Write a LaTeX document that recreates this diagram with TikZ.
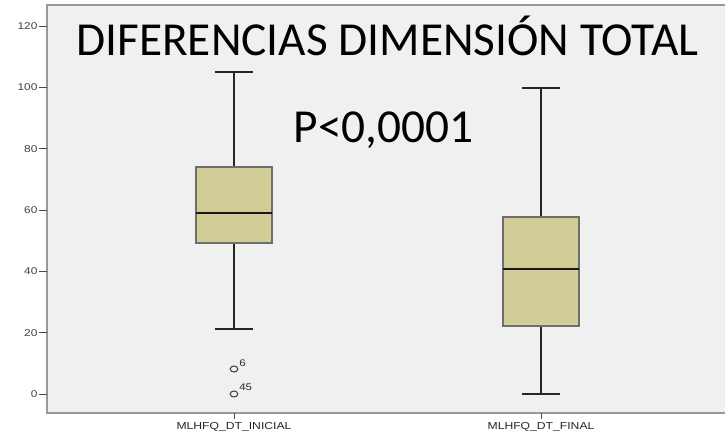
\documentclass[tikz,border=0pt]{standalone}
\usepackage{fontspec}
\setmainfont{Carlito}
\newfontfamily\axisfont[FakeStretch=1.2]{Liberation Sans}
\usepackage{tikz}
\usetikzlibrary{positioning,calc}

\definecolor{plotbg}{HTML}{F0F0F0}
\definecolor{boxfill}{HTML}{D2CD96}
\definecolor{boxedge}{HTML}{6E6E6E}

\begin{document}
\begin{tikzpicture}[x=0.75pt, y=-0.75pt]
    % Define styles
    \tikzset{
        frame/.style={draw=gray!80, line width=0.9pt, fill=plotbg},
        box/.style={draw=boxedge, line width=0.9pt, fill=boxfill},
        whisker/.style={draw=black!85, line width=1.1pt},
        median/.style={draw=black!90, line width=1.6pt},
        ticklabel/.style={font=\axisfont\fontsize{7.4}{8}\selectfont, text=black!75, anchor=east, inner sep=1pt},
        catlabel/.style={font=\axisfont\fontsize{7.6}{8}\selectfont, text=black!85, inner sep=0pt},
        outlier/.style={draw=black!75, line width=0.8pt},
        bigtext/.style={font=\fontsize{35.5}{38}\selectfont, anchor=base, inner sep=0pt}
    }
    \useasboundingbox (0,0) rectangle (725,433);

    % Plot area
    \draw[frame] (725,5) -- (47,5) -- (47,413) -- (725,413);

    % Y axis ticks
    \foreach \v in {0,20,...,120} {
        \coordinate (t\v) at (47,{394-3.066*\v});
        \draw[black!70, line width=0.7pt] (t\v) -- ++(-8,0);
        \node[ticklabel] at ($(t\v)+(-8,0)$) {\v};
    }

    % Place nodes
    \coordinate (initial) at (234,413);
    \coordinate (final) at (541,413);
    \coordinate (ini_top) at (234,72);
    \coordinate (ini_bot) at (234,329);
    \coordinate (fin_top) at (541,88);
    \coordinate (fin_bot) at (541,394);

    % Draw whiskers
    \draw[whisker] (ini_top) -- (234,167);
    \draw[whisker] (234,243) -- (ini_bot);
    \draw[whisker] ($(ini_top)+(-19,0)$) -- ($(ini_top)+(19,0)$);
    \draw[whisker] ($(ini_bot)+(-19,0)$) -- ($(ini_bot)+(19,0)$);
    \draw[whisker] (fin_top) -- (541,217);
    \draw[whisker] (541,326) -- (fin_bot);
    \draw[whisker] ($(fin_top)+(-19,0)$) -- ($(fin_top)+(19,0)$);
    \draw[whisker] ($(fin_bot)+(-19,0)$) -- ($(fin_bot)+(19,0)$);

    % Draw boxes
    \draw[box] (196,167) rectangle (272,243);
    \draw[median] (196,213) -- (272,213);
    \draw[box] (503,217) rectangle (579,326);
    \draw[median] (503,269) -- (579,269);

    % Outliers
    \draw[outlier] (234,369) ellipse (3.8 and 3);
    \draw[outlier] (234,394) ellipse (3.8 and 3);
    \node[catlabel, font=\axisfont\fontsize{7.2}{8}\selectfont, anchor=south west] (o6) at (239,367) {6};
    \node[catlabel, font=\axisfont\fontsize{7.2}{8}\selectfont, anchor=south west] (o45) at (239,391) {45};

    % X axis ticks and labels
    \draw[black!70, line width=0.7pt] (initial) -- ++(0,6);
    \draw[black!70, line width=0.7pt] (final) -- ++(0,6);
    \node[catlabel] (lab_ini) at (234,427) {MLHFQ\_DT\_INICIAL};
    \node[catlabel] (lab_fin) at (541,427) {MLHFQ\_DT\_FINAL};

    % Titles
    \node[bigtext] (title) at (387.5,55) {DIFERENCIAS DIMENSIÓN TOTAL};
    \node[bigtext] (pval) at (383.5,142) {P<0,0001};
\end{tikzpicture}
\end{document}
